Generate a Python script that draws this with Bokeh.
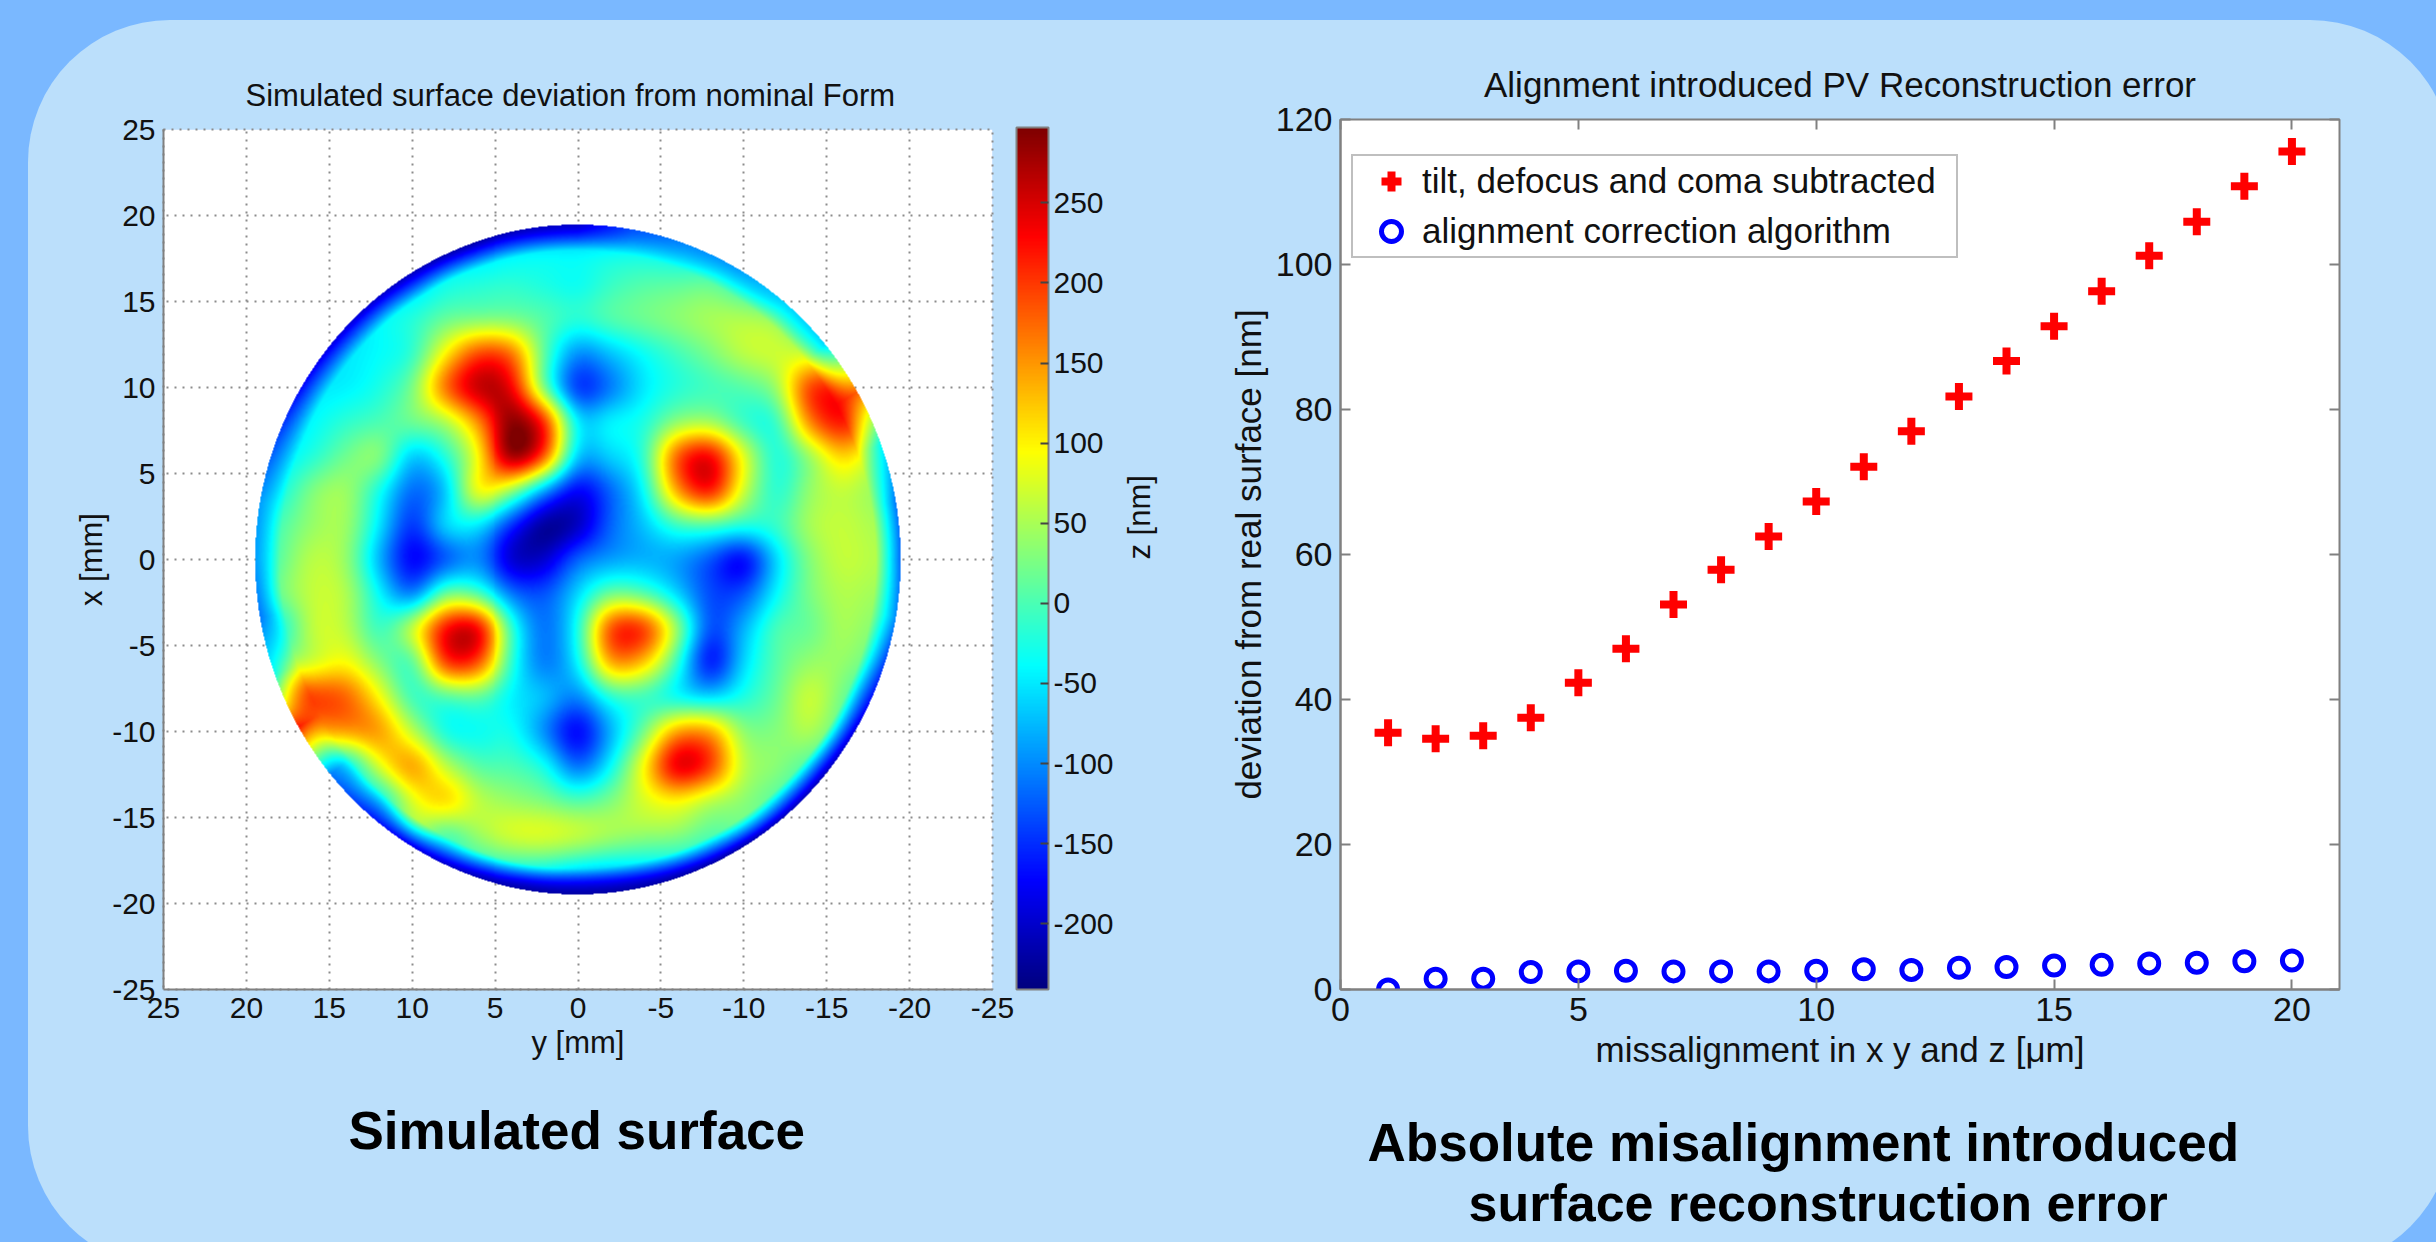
import math

from bokeh.embed import file_html
from bokeh.resources import INLINE
from bokeh.layouts import column, row
from bokeh.models import (ColorBar, FixedTicker, Legend, LegendItem, LinearAxis,
                          LinearColorMapper, Range1d, Title)
from bokeh.plotting import figure
import numpy as np

OUTER = "#7ab8ff"
PANEL = "#bbdffb"
FONT = "Liberation Sans"
GRAY = "#808080"
INK = "#111111"

# ---------- right chart ----------
misalignment = list(range(1, 21))
tilt_defocus_coma = [35.4, 34.6, 35.0, 37.5, 42.3, 47.0, 53.1, 57.9, 62.5, 67.3,
                     72.1, 77.0, 81.8, 86.7, 91.5, 96.3, 101.2, 105.9, 110.8, 115.6]
alignment_algo = [0.0, 1.5, 1.5, 2.4, 2.5, 2.6, 2.5, 2.5, 2.5, 2.6,
                  2.8, 2.7, 3.0, 3.1, 3.3, 3.4, 3.6, 3.7, 3.9, 4.0]

# ---------- left chart: z [nm] estimated by eye from the colours ----------
# columns: y = 20, 18 ... -20 (left to right); rows: x = 20, 18 ... -20 (top to bottom)
surface_y = list(range(20, -21, -2))
surface_x = list(range(20, -21, -2))
surface_z = [
 [ -60, -60, -60, -60, -60, -60, -80,-100,-120,-150,-150,-150,-120,-100, -80, -60, -60, -60, -60, -60, -60],
 [ -60, -60, -60, -60, -60, -60, -60, -60, -50, -45, -45, -40, -40, -50, -60, -60, -60, -60, -60, -60, -60],
 [ -60, -60, -60, -60, -60, -60, -30, -20, -15, -25, -35, -10,   5,  10,  15, -20, -60, -60, -60, -60, -60],
 [ -60, -60, -60, -60, -40, -20,  15,  25,  25,   5, -17,   5,  20,  35,  50,  55,  40, -20, -40, -40, -40],
 [ -60, -60, -60, -50, -38, -15, 100, 195, 175,  10,-100, -70, -35,  -5,  25,  60,  70,  65,  40,  40,  40],
 [ -60, -60, -50, -45, -25,  25, 175, 265, 240,  20,-150,-110, -50, -20,  -5,   5,  40, 200, 215, 190, 180],
 [ -60, -60, -40, -15,   0,  20,  50, 155, 295, 215, -50, -40, -25,  35,  45, -10, -15, 160, 225, 140, 130],
 [ -60, -50, -20,  20,  35, -70, -20,  95, 290, 190, -70, -60, -15, 185, 240,  85, -25,  40, 120,  60,  60],
 [ -50, -30,  30,  45, -30,-120, -70, 100,  40, -90,-180,-120, -40, 145, 225,  70, -20,  40,  65,  40,  40],
 [ -50,   0,  40,  45, -50,-150, -55, -50,-150,-230,-210,-120, -70, -10,   0, -20, -10,  50,  65,  50,  50],
 [ -50,  10,  60,  40, -80,-180,-130,-100,-200,-200,-120, -90, -80, -90,-130,-180, -60,  30,  65,  55,  55],
 [ -50,  20,  65,  55, -40,-110,  20,   0,-110,-130, -60,  20,   5, -60,-135,-130, -40,  25,  55,  45,  45],
 [ -50, -30,  65,  60, -10,  70, 230, 240, -10,-115, -30, 195, 205,  45,-135, -80,   0,  15,  50,  30,  30],
 [ -50,  30,  70,  95,  30,   0, 205, 190, -15,-110, -45, 145, 125, -10,-170, -60,   5,  40,  40,  10,  10],
 [ 100, 215, 200, 180,  95, -10,   0,  10, -45, -70,-105, -20, -10, -40, -60, -25,  15,  70,  20, -40, -40],
 [ 100, 150, 140, 150, 150,  60, -30, -35, -30,-100,-180, -80,  20, 145, 145,  35,  30,  55,   0, -40, -40],
 [ -40, -40, -40, -50,  80, 150,  60,   5,   0, -30,-120, -40,  95, 250, 205,  60,  35,   0, -40, -40, -40],
 [ -40, -40, -40, -40, -40,  80, 120,  60,  40,  25,   0,  25,  75, 100,  60,  35,   5, -30, -40, -40, -40],
 [ -40, -40, -40, -40, -40,  40,   0,  45,  75,  80,  68,  50,  40,  35,   5,  10,   0, -40, -40, -40, -40],
 [ -40, -40, -40, -40, -40, -40, -40, -40, -30, -30, -50, -60, -60, -60, -60, -60, -60, -60, -60, -60, -60],
 [-100,-100,-100,-100,-100,-150,-180,-200,-200,-200,-200,-200,-200,-200,-200,-180,-150,-100,-100,-100,-100],
]
# z [nm] on the circle's rim, every 10 degrees clockwise from the top of the picture
rim_z = [-200,-130,-100,-90,-60,-60,180,-40,-110,-120,-100,-150,-190,-210,-210,-220,-220,-220,
         -220,-220,-210,-190,-160,-110,220,-30,-110,-90,-90,-130,-170,-190,-200,-210,-220,-210]

cbar_ticks = [-200, -150, -100, -50, 0, 50, 100, 150, 200, 250]
z_low, z_high = -241, 297


def jet(n=256):
    t = np.linspace(0, 1, n)
    c = lambda s: np.clip(1.5 - np.abs(4 * t - s), 0, 1)
    return ["#%02x%02x%02x" % (int(r*255), int(g*255), int(b*255))
            for r, g, b in zip(c(3), c(2), c(1))]


def resample_weights(src, dst):
    """Catmull-Rom weights: the table is displayed smoothly, as a shaded surface is."""
    src = np.asarray(src, float)
    step = src[1] - src[0]
    w = np.zeros((len(dst), len(src)))
    for i, d in enumerate(dst):
        u = (d - src[0]) / step
        k = int(np.clip(np.floor(u), 0, len(src) - 2))
        f = u - k
        for off, wt in zip((-1, 0, 1, 2), (
                -0.5*f**3 + f**2 - 0.5*f, 1.5*f**3 - 2.5*f**2 + 1,
                -1.5*f**3 + 2*f**2 + 0.5*f, 0.5*f**3 - 0.5*f**2)):
            w[i, int(np.clip(k + off, 0, len(src) - 1))] += wt
    return w


def soften(field, sigma_px=8):
    kernel = np.exp(-0.5 * (np.arange(-24, 25) / sigma_px) ** 2)
    kernel /= kernel.sum()
    padded = np.pad(field, 24, mode="edge")
    padded = np.apply_along_axis(lambda v: np.convolve(v, kernel, mode="same"), 0, padded)
    padded = np.apply_along_axis(lambda v: np.convolve(v, kernel, mode="same"), 1, padded)
    return padded[24:-24, 24:-24]


def surface_image():
    table = np.array(surface_z, float)[::-1, ::-1]    # rows ascending in x, columns ascending in y
    ys = np.array(surface_y, float)[::-1]
    xs = np.array(surface_x, float)[::-1]
    gy = np.linspace(-20, 20, 664)
    gx = np.linspace(-20, 20, 688)
    field = soften(resample_weights(xs, gx) @ table @ resample_weights(ys, gy).T)
    Y, X = np.meshgrid(gy, gx)
    r = np.hypot(X, Y)
    theta = np.degrees(np.arctan2(-Y, X)) % 360        # clockwise from top (y grows leftwards)
    rim = np.interp(theta, np.arange(0, 370, 10), rim_z + rim_z[:1])
    w = np.clip((r - 18.0) / 1.5, 0, 1)
    field = field * (1 - w) + rim * w
    field[r > 19.5] = np.nan
    return np.clip(field, z_low, z_high)


def hyphens(ticks):
    return {t: str(t) for t in ticks}


def style_axis(ax, tick_px, label_px, tick_standoff, label_standoff, tick_in):
    ax.major_label_text_font = FONT
    ax.major_label_text_font_size = f"{tick_px}px"
    ax.major_label_text_color = INK
    ax.axis_label_text_font = FONT
    ax.axis_label_text_font_size = f"{label_px}px"
    ax.axis_label_text_font_style = "normal"
    ax.axis_label_text_color = INK
    ax.axis_label_standoff = label_standoff
    ax.axis_line_color = GRAY
    ax.axis_line_width = 2
    ax.major_tick_line_color = GRAY
    ax.major_tick_line_width = 2
    ax.major_tick_in = tick_in
    ax.major_tick_out = 0
    ax.minor_tick_line_color = None
    ax.major_label_standoff = tick_standoff


def base(width, left, right, top, bottom, xr, yr, title, title_px, title_standoff, clip):
    p = figure(width=width, height=1242, x_range=xr, y_range=yr, toolbar_location=None,
               output_backend="svg", min_border_left=left, min_border_right=right,
               min_border_top=top, min_border_bottom=bottom, title=title,
               border_fill_color=PANEL, background_fill_color="white",
               styles={"clip-path": f"path('{clip}')"})
    p.title.text_font = FONT
    p.title.text_font_style = "normal"
    p.title.text_font_size = f"{title_px}px"
    p.title.text_color = INK
    p.title.align = "center"
    p.title.standoff = title_standoff
    return p


def caption(p, text, standoff, px, offset):
    p.add_layout(Title(text=text, align="left", offset=offset, text_font=FONT,
                       text_font_style="bold", text_font_size=f"{px}px", text_color="black",
                       standoff=standoff), "below")


# The rounded light panel on the darker page: each figure is cut to its half of the outline,
# and the page's own background carries the panel colour across the join between them.
clip_left = ("M 28 162 A 142 142 0 0 1 170 20 L 1218 20 L 1218 1268 L 170 1268 "
             "A 142 142 0 0 1 28 1126 Z")
clip_right = ("M 2 20 L 1090 20 A 142 142 0 0 1 1232 162 L 1232 1126 "
              "A 142 142 0 0 1 1090 1268 L 2 1268 Z")
page_background = f"linear-gradient({PANEL},{PANEL}) 1200px 20px / 40px 1222px no-repeat, {OUTER}"

# ---------- left figure: frame 163..992 x 129..989 ----------
p1 = base(1220, 163, 1220 - 992, 129, 1242 - 989, Range1d(25, -25), Range1d(-25, 25),
          "Simulated surface deviation from nominal Form", 31, 33, clip_left)
p1.title.align = "left"
p1.title.offset = 82
ticks = list(range(-25, 30, 5))
style_axis(p1.xaxis[0], 30, 31, 8, 4, 0)
style_axis(p1.yaxis[0], 30, 31, 8, 0, 0)
for ax, label in ((p1.xaxis[0], "y [mm]"), (p1.yaxis[0], "x [mm]")):
    ax.ticker = FixedTicker(ticks=ticks)
    ax.major_label_overrides = hyphens(ticks)
    ax.axis_label = label
for g in (p1.xgrid[0], p1.ygrid[0]):
    g.ticker = FixedTicker(ticks=ticks)
    g.grid_line_color = "#8c8c8c"
    g.grid_line_dash = "2 6"
    g.grid_line_width = 2
p1.outline_line_color = "#8c8c8c"
p1.outline_line_dash = "2 6"
p1.outline_line_width = 2

mapper = LinearColorMapper(palette=jet(), low=z_low, high=z_high, nan_color="#00000000")
p1.image(image=[surface_image()], x=-20, y=-20, dw=40, dh=40, color_mapper=mapper)
cb = ColorBar(color_mapper=mapper, ticker=FixedTicker(ticks=cbar_ticks), location=(24, 0),
              width=32, height=862, margin=0, padding=0, label_standoff=5,
              major_label_overrides=hyphens(cbar_ticks),
              major_label_text_font=FONT, major_label_text_font_size="30px",
              major_label_text_color=INK, major_tick_line_color="#444444",
              major_tick_line_width=2, major_tick_in=8, minor_tick_line_color=None,
              bar_line_color=GRAY, bar_line_width=2, background_fill_color=None)
p1.add_layout(cb, "right")
z_axis = LinearAxis(ticker=FixedTicker(ticks=[]), axis_label="z [nm]", axis_line_color=None,
                    major_tick_line_color=None, minor_tick_line_color=None,
                    axis_label_orientation=math.pi / 2, axis_label_standoff=23,
                    axis_label_text_align="center", axis_label_text_font=FONT,
                    axis_label_text_font_size="31px", axis_label_text_font_style="normal",
                    axis_label_text_color=INK)
p1.add_layout(z_axis, "right")
caption(p1, "Simulated surface", 72, 53, 185)

# ---------- right figure: frame 1340..2338.5 x 119..989 ----------
p2 = base(1216, 120, 97, 119, 1242 - 989, Range1d(0, 21), Range1d(0, 120),
          "Alignment introduced PV Reconstruction error", 35, 31, clip_right)
p2.grid.visible = False
x_ticks, y_ticks = [0, 5, 10, 15, 20], [0, 20, 40, 60, 80, 100, 120]
style_axis(p2.xaxis[0], 34, 35, 8, 6, 10)
style_axis(p2.yaxis[0], 34, 35, 8, 5, 10)
p2.xaxis[0].ticker = FixedTicker(ticks=x_ticks)
p2.yaxis[0].ticker = FixedTicker(ticks=y_ticks)
p2.xaxis[0].axis_label = "missalignment in x y and z [μm]"
p2.yaxis[0].axis_label = "deviation from real surface [nm]"
p2.outline_line_color = GRAY
p2.outline_line_width = 2
for side, tk in (("above", x_ticks), ("right", y_ticks)):
    ax = LinearAxis(ticker=FixedTicker(ticks=tk), major_label_overrides={t: "" for t in tk},
                    major_label_standoff=0, axis_line_color=None, major_tick_line_color=GRAY,
                    major_tick_line_width=2, major_tick_in=10, major_tick_out=0,
                    minor_tick_line_color=None)
    p2.add_layout(ax, side)

r_plus = p2.scatter(misalignment, tilt_defocus_coma, marker="cross", size=27,
                    line_color="#ff0000", line_width=8)
r_circ = p2.scatter(misalignment, alignment_algo, marker="circle", size=19,
                    line_color="#0000ff", line_width=5, fill_color=None)
legend = Legend(items=[LegendItem(label="tilt, defocus and coma subtracted", renderers=[r_plus]),
                       LegendItem(label="alignment correction algorithm", renderers=[r_circ])],
                location=(11, 731), orientation="vertical", margin=0,
                padding=dict(left=13, right=20, top=0, bottom=0), spacing=0,
                glyph_width=50, glyph_height=50, label_standoff=6,
                label_text_font=FONT, label_text_font_size="35px", label_text_color=INK,
                border_line_color=GRAY, border_line_width=2, background_fill_color="white",
                background_fill_alpha=1)
p2.add_layout(legend)
# a blank, one-pixel title pushes the two caption lines down without spreading them apart
p2.add_layout(Title(text=" ", text_font_size="1px", standoff=36), "below")
caption(p2, "Absolute misalignment  introduced", 0, 53, 27)
caption(p2, "surface reconstruction error", 0, 52, 128)

page = row(column(p1), column(p2), spacing=0, styles={"background": page_background})
open("out.html", "w").write(file_html(page, INLINE))
